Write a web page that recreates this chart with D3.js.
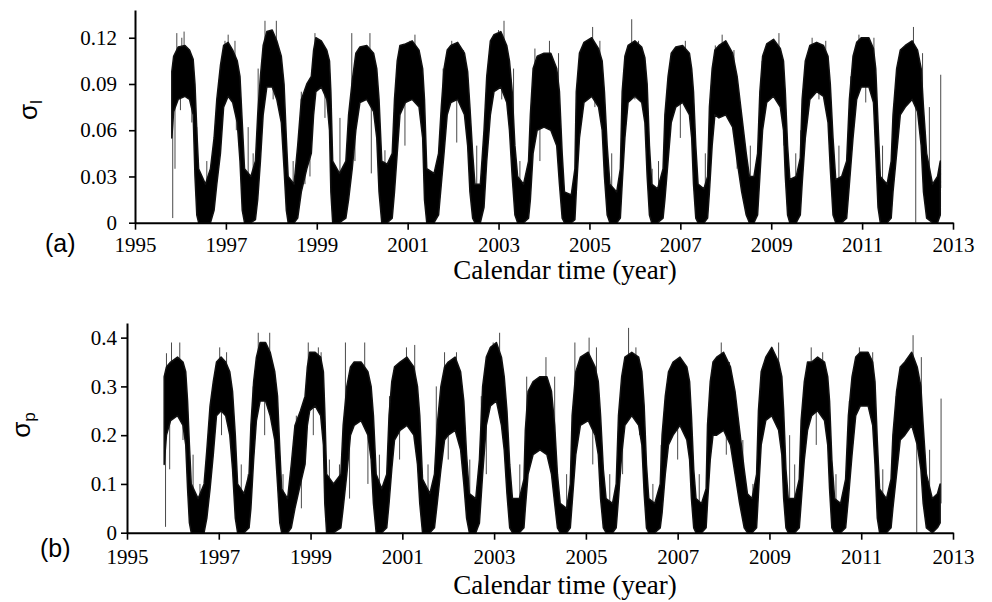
<!DOCTYPE html>
<html>
<head>
<meta charset="utf-8">
<script src="https://cdn.jsdelivr.net/npm/d3@7"></script>
<style>
  body { margin: 0; background: #fff; }
  svg { display: block; }
</style>
</head>
<body>
<svg id="chart" width="992" height="602"></svg>
<script>
// Daily series summarised as [year, low, high] of the dense band (σl)
const bandL = [
  [1995.81,0.055,0.098],[1995.85,0.072,0.108],[1995.95,0.080,0.114],[1996.10,0.082,0.115],[1996.20,0.080,0.112],
  [1996.28,0.070,0.106],[1996.32,0.030,0.090],[1996.36,0.005,0.060],[1996.40,0.000,0.035],[1996.55,0.000,0.025],
  [1996.66,0.000,0.035],[1996.74,0.008,0.055],[1996.80,0.025,0.080],[1996.88,0.045,0.102],[1996.95,0.075,0.115],
  [1997.05,0.082,0.117],[1997.15,0.078,0.112],[1997.25,0.065,0.105],[1997.31,0.040,0.095],[1997.36,0.008,0.065],
  [1997.41,0.000,0.035],[1997.55,0.000,0.030],[1997.65,0.002,0.040],[1997.70,0.015,0.070],[1997.76,0.040,0.095],
  [1997.82,0.070,0.115],[1997.90,0.088,0.124],[1998.02,0.088,0.125],[1998.12,0.080,0.118],[1998.22,0.065,0.108],
  [1998.28,0.035,0.090],[1998.33,0.008,0.055],[1998.37,0.000,0.030],[1998.50,0.000,0.025],[1998.58,0.003,0.050],
  [1998.66,0.020,0.080],[1998.78,0.035,0.090],[1998.88,0.045,0.095],[1998.93,0.070,0.112],
  [1998.98,0.085,0.120],[1999.10,0.088,0.118],[1999.22,0.080,0.112],[1999.28,0.060,0.105],[1999.31,0.020,0.085],
  [1999.35,0.000,0.040],[1999.50,0.000,0.032],[1999.64,0.003,0.040],[1999.70,0.015,0.070],[1999.78,0.035,0.092],
  [1999.86,0.060,0.110],[1999.95,0.078,0.114],[2000.10,0.080,0.115],[2000.25,0.072,0.110],[2000.32,0.055,0.100],
  [2000.37,0.020,0.080],[2000.43,0.000,0.040],[2000.55,0.000,0.038],[2000.66,0.003,0.045],[2000.71,0.020,0.080],
  [2000.77,0.045,0.105],[2000.83,0.070,0.115],[2000.95,0.078,0.116],[2001.10,0.080,0.118],[2001.25,0.075,0.112],
  [2001.33,0.055,0.100],[2001.37,0.015,0.080],[2001.42,0.000,0.035],[2001.58,0.000,0.032],[2001.68,0.005,0.045],
  [2001.74,0.025,0.075],[2001.80,0.045,0.100],[2001.87,0.070,0.112],[2001.95,0.078,0.115],[2002.10,0.080,0.117],
  [2002.25,0.070,0.110],[2002.32,0.050,0.098],[2002.37,0.020,0.075],[2002.43,0.003,0.045],[2002.48,0.000,0.025],
  [2002.60,0.000,0.025],[2002.68,0.010,0.060],[2002.74,0.040,0.095],[2002.82,0.070,0.118],[2002.90,0.085,0.122],
  [2003.05,0.088,0.124],[2003.18,0.078,0.115],[2003.24,0.060,0.105],[2003.30,0.030,0.085],[2003.36,0.005,0.050],
  [2003.42,0.000,0.030],[2003.55,0.000,0.025],[2003.66,0.003,0.040],[2003.70,0.015,0.070],[2003.76,0.045,0.100],
  [2003.85,0.060,0.108],[2004.00,0.062,0.110],[2004.15,0.060,0.110],[2004.28,0.050,0.100],[2004.34,0.025,0.085],
  [2004.40,0.003,0.045],[2004.45,0.000,0.020],[2004.60,0.000,0.018],[2004.68,0.002,0.035],[2004.71,0.020,0.085],
  [2004.78,0.055,0.110],[2004.88,0.078,0.117],[2005.05,0.082,0.120],[2005.20,0.075,0.113],[2005.28,0.060,0.105],
  [2005.33,0.030,0.085],[2005.39,0.005,0.050],[2005.45,0.000,0.025],[2005.60,0.000,0.020],[2005.68,0.003,0.035],
  [2005.72,0.025,0.085],[2005.78,0.055,0.108],[2005.85,0.078,0.115],[2006.00,0.082,0.118],[2006.15,0.078,0.114],
  [2006.22,0.065,0.107],[2006.27,0.030,0.090],[2006.32,0.005,0.050],[2006.37,0.000,0.025],[2006.50,0.000,0.022],
  [2006.62,0.003,0.035],[2006.66,0.015,0.070],[2006.73,0.040,0.095],[2006.80,0.065,0.110],[2006.90,0.075,0.114],
  [2007.05,0.078,0.115],[2007.20,0.070,0.110],[2007.25,0.055,0.100],[2007.29,0.025,0.085],[2007.34,0.003,0.050],
  [2007.39,0.000,0.025],[2007.52,0.000,0.022],[2007.60,0.003,0.030],[2007.64,0.020,0.075],[2007.70,0.050,0.100],
  [2007.76,0.070,0.112],[2007.85,0.068,0.115],[2008.00,0.070,0.118],[2008.15,0.062,0.110],[2008.25,0.040,0.095],
  [2008.35,0.020,0.070],[2008.45,0.005,0.045],[2008.52,0.000,0.030],[2008.62,0.000,0.030],[2008.70,0.005,0.045],
  [2008.75,0.030,0.085],[2008.81,0.060,0.108],[2008.90,0.078,0.116],[2009.05,0.082,0.119],[2009.20,0.075,0.113],
  [2009.27,0.060,0.105],[2009.31,0.030,0.085],[2009.36,0.005,0.050],[2009.41,0.000,0.028],[2009.55,0.000,0.030],
  [2009.64,0.005,0.042],[2009.68,0.025,0.080],[2009.75,0.055,0.105],[2009.85,0.080,0.115],[2010.00,0.085,0.117],
  [2010.15,0.082,0.115],[2010.25,0.065,0.108],[2010.30,0.035,0.090],[2010.36,0.005,0.055],[2010.42,0.000,0.028],
  [2010.55,0.000,0.030],[2010.66,0.003,0.040],[2010.72,0.025,0.080],[2010.80,0.055,0.108],[2010.88,0.080,0.117],
  [2010.98,0.088,0.120],[2011.15,0.088,0.120],[2011.25,0.078,0.113],[2011.30,0.045,0.100],[2011.35,0.010,0.065],
  [2011.40,0.000,0.030],[2011.55,0.000,0.025],[2011.64,0.003,0.040],[2011.68,0.020,0.070],[2011.76,0.045,0.100],
  [2011.84,0.070,0.112],[2011.95,0.075,0.115],[2012.10,0.080,0.118],[2012.22,0.072,0.112],[2012.30,0.050,0.100],
  [2012.35,0.020,0.075],[2012.42,0.003,0.045],[2012.55,0.000,0.025],[2012.66,0.000,0.030],[2012.72,0.005,0.040]
];

// Isolated excursions beyond the band: [year, value]
const spikesL = [
  [1995.83,0.003],[1995.88,0.035],[1995.92,0.123],[1996.03,0.120],[1996.08,0.124],[1996.00,0.073],[1996.25,0.065],
  [1996.36,0.062],[1996.58,0.040],[1996.83,0.050],[1996.98,0.118],[1997.05,0.122],[1997.20,0.118],[1997.23,0.060],
  [1997.49,0.062],[1997.60,0.045],[1997.71,0.100],[1997.86,0.131],[1998.11,0.131],[1998.04,0.080],[1998.48,0.040],
  [1998.66,0.085],[1998.74,0.025],[1998.85,0.030],[1998.96,0.123],[1999.18,0.068],[1999.51,0.068],[1999.77,0.123],
  [1999.84,0.040],[2000.17,0.123],[2000.20,0.032],[2000.50,0.047],[2000.76,0.085],[2001.05,0.118],[2001.16,0.122],
  [2000.94,0.050],[2001.53,0.030],[2001.78,0.100],[2001.97,0.118],[2002.08,0.052],[2002.23,0.112],[2002.52,0.050],
  [2002.74,0.090],[2003.00,0.125],[2003.12,0.131],[2003.07,0.080],[2003.33,0.100],[2003.47,0.040],[2003.80,0.113],
  [2003.91,0.040],[2004.12,0.118],[2004.32,0.110],[2004.76,0.100],[2005.07,0.127],[2005.23,0.118],[2005.12,0.075],
  [2005.49,0.045],[2005.78,0.092],[2005.93,0.132],[2006.08,0.118],[2006.00,0.080],[2006.38,0.035],[2006.52,0.040],
  [2006.85,0.110],[2007.11,0.118],[2007.00,0.055],[2007.55,0.045],[2007.77,0.115],[2007.92,0.122],[2008.18,0.112],
  [2008.25,0.035],[2008.54,0.050],[2008.80,0.105],[2009.17,0.123],[2009.28,0.050],[2009.54,0.045],[2009.65,0.060],
  [2009.90,0.120],[2010.05,0.080],[2010.20,0.118],[2010.49,0.050],[2010.75,0.095],[2010.93,0.122],[2011.26,0.120],
  [2011.08,0.078],[2011.45,0.050],[2011.78,0.090],[2012.13,0.127],[2012.18,0.000],[2012.33,0.110],[2012.48,0.075],
  [2012.73,0.096]
];

// Same summary for σp
const bandP = [
  [1995.81,0.14,0.32],[1995.86,0.20,0.34],[1995.95,0.23,0.35],[1996.10,0.24,0.36],[1996.22,0.22,0.35],
  [1996.28,0.18,0.33],[1996.32,0.09,0.27],[1996.36,0.02,0.18],[1996.40,0.00,0.10],[1996.55,0.00,0.07],
  [1996.68,0.00,0.10],[1996.74,0.03,0.17],[1996.81,0.09,0.26],[1996.88,0.16,0.31],[1996.95,0.24,0.35],
  [1997.05,0.25,0.36],[1997.15,0.24,0.35],[1997.24,0.20,0.33],[1997.30,0.13,0.29],[1997.36,0.03,0.20],
  [1997.41,0.00,0.10],[1997.55,0.00,0.08],[1997.66,0.01,0.12],[1997.70,0.05,0.22],[1997.76,0.15,0.31],
  [1997.82,0.23,0.36],[1997.90,0.27,0.39],[1998.02,0.27,0.39],[1998.12,0.24,0.37],[1998.22,0.19,0.33],
  [1998.28,0.10,0.28],[1998.33,0.02,0.17],[1998.37,0.00,0.09],[1998.50,0.00,0.07],[1998.58,0.01,0.14],
  [1998.66,0.05,0.22],[1998.78,0.10,0.25],[1998.88,0.14,0.28],[1998.93,0.22,0.34],
  [1998.98,0.25,0.37],[1999.10,0.26,0.37],[1999.22,0.24,0.36],[1999.28,0.18,0.33],[1999.31,0.06,0.25],
  [1999.35,0.00,0.12],[1999.50,0.00,0.10],[1999.66,0.01,0.12],[1999.71,0.05,0.22],[1999.79,0.12,0.30],
  [1999.87,0.20,0.34],[1999.95,0.22,0.35],[2000.10,0.23,0.35],[2000.25,0.20,0.33],[2000.32,0.15,0.30],
  [2000.37,0.06,0.24],[2000.43,0.00,0.12],[2000.55,0.00,0.09],[2000.66,0.01,0.12],[2000.71,0.06,0.24],
  [2000.77,0.13,0.31],[2000.83,0.19,0.34],[2000.95,0.21,0.35],[2001.10,0.22,0.36],[2001.25,0.20,0.34],
  [2001.33,0.14,0.30],[2001.38,0.06,0.24],[2001.44,0.00,0.11],[2001.60,0.00,0.08],[2001.70,0.01,0.12],
  [2001.76,0.06,0.22],[2001.84,0.13,0.30],[2001.92,0.19,0.34],[2002.00,0.20,0.35],[2002.15,0.21,0.36],
  [2002.27,0.17,0.33],[2002.34,0.10,0.27],[2002.40,0.03,0.16],[2002.46,0.00,0.08],[2002.60,0.00,0.07],
  [2002.68,0.02,0.15],[2002.75,0.12,0.30],[2002.83,0.22,0.36],[2002.92,0.26,0.38],[2003.05,0.27,0.39],
  [2003.16,0.22,0.36],[2003.22,0.17,0.32],[2003.28,0.08,0.25],[2003.34,0.01,0.14],[2003.40,0.00,0.07],
  [2003.55,0.00,0.07],[2003.65,0.01,0.11],[2003.68,0.05,0.21],[2003.74,0.12,0.29],[2003.85,0.16,0.31],
  [2004.00,0.17,0.32],[2004.15,0.16,0.32],[2004.25,0.12,0.29],[2004.32,0.06,0.22],[2004.38,0.01,0.12],
  [2004.44,0.00,0.06],[2004.58,0.00,0.05],[2004.66,0.01,0.10],[2004.70,0.06,0.24],[2004.78,0.16,0.33],
  [2004.88,0.22,0.36],[2005.05,0.23,0.37],[2005.20,0.20,0.34],[2005.27,0.16,0.31],[2005.32,0.07,0.24],
  [2005.38,0.01,0.13],[2005.44,0.00,0.07],[2005.58,0.00,0.06],[2005.66,0.01,0.10],[2005.71,0.07,0.24],
  [2005.78,0.16,0.32],[2005.85,0.22,0.36],[2006.00,0.24,0.37],[2006.15,0.22,0.36],[2006.22,0.18,0.33],
  [2006.27,0.08,0.26],[2006.32,0.01,0.14],[2006.37,0.00,0.07],[2006.50,0.00,0.06],[2006.62,0.01,0.10],
  [2006.66,0.04,0.20],[2006.73,0.12,0.28],[2006.80,0.18,0.33],[2006.90,0.20,0.35],[2007.05,0.22,0.36],
  [2007.20,0.19,0.34],[2007.26,0.15,0.31],[2007.30,0.07,0.24],[2007.35,0.01,0.13],[2007.40,0.00,0.07],
  [2007.52,0.00,0.06],[2007.62,0.01,0.09],[2007.65,0.06,0.22],[2007.71,0.15,0.31],[2007.77,0.20,0.35],
  [2007.85,0.20,0.36],[2008.00,0.21,0.37],[2008.15,0.18,0.34],[2008.25,0.12,0.29],[2008.35,0.06,0.21],
  [2008.45,0.01,0.13],[2008.52,0.00,0.08],[2008.62,0.00,0.07],[2008.72,0.01,0.12],[2008.76,0.08,0.25],
  [2008.82,0.18,0.33],[2008.92,0.23,0.36],[2009.05,0.24,0.38],[2009.20,0.21,0.35],[2009.27,0.16,0.32],
  [2009.31,0.07,0.25],[2009.36,0.01,0.13],[2009.41,0.00,0.07],[2009.55,0.00,0.07],[2009.65,0.01,0.11],
  [2009.69,0.06,0.23],[2009.76,0.15,0.31],[2009.83,0.21,0.35],[2009.92,0.24,0.35],[2010.05,0.25,0.36],
  [2010.20,0.23,0.35],[2010.27,0.18,0.32],[2010.31,0.09,0.27],[2010.36,0.01,0.15],[2010.42,0.00,0.07],
  [2010.55,0.00,0.06],[2010.66,0.01,0.11],[2010.72,0.07,0.24],[2010.80,0.16,0.32],[2010.88,0.24,0.36],
  [2010.98,0.26,0.37],[2011.15,0.26,0.37],[2011.25,0.22,0.35],[2011.30,0.14,0.31],[2011.35,0.03,0.19],
  [2011.40,0.00,0.09],[2011.55,0.00,0.07],[2011.65,0.01,0.11],[2011.69,0.05,0.20],[2011.77,0.12,0.29],
  [2011.85,0.19,0.34],[2011.95,0.20,0.35],[2012.10,0.22,0.37],[2012.22,0.18,0.34],[2012.30,0.13,0.30],
  [2012.35,0.06,0.22],[2012.42,0.01,0.12],[2012.55,0.00,0.07],[2012.66,0.01,0.08],[2012.72,0.02,0.10]
];

const spikesP = [
  [1995.84,0.012],[1995.86,0.368],[1995.97,0.390],[1996.15,0.390],[1995.93,0.130],[1996.22,0.190],[1996.44,0.160],
  [1996.59,0.100],[1996.77,0.180],[1996.88,0.300],[1997.02,0.380],[1997.17,0.370],[1997.06,0.200],[1997.49,0.140],
  [1997.64,0.120],[1997.75,0.300],[1997.86,0.410],[1998.11,0.410],[1998.00,0.200],[1998.40,0.120],[1998.55,0.090],
  [1998.69,0.240],[1998.80,0.050],[1998.95,0.390],[1999.17,0.380],[1999.06,0.200],[1999.23,0.370],[1999.41,0.150],
  [1999.52,0.000],[1999.63,0.140],[1999.76,0.390],[1999.85,0.070],[2000.18,0.390],[2000.25,0.100],[2000.50,0.160],
  [2000.72,0.280],[2001.09,0.380],[2001.27,0.385],[2000.94,0.150],[2001.56,0.140],[2001.74,0.300],[2001.92,0.370],
  [2002.18,0.370],[2002.00,0.150],[2002.47,0.150],[2002.72,0.280],[2002.98,0.390],[2003.12,0.410],[2002.83,0.120],
  [2003.56,0.140],[2003.71,0.320],[2004.13,0.360],[2004.32,0.320],[2004.00,0.170],[2004.58,0.120],[2004.76,0.390],
  [2005.07,0.400],[2005.23,0.380],[2005.15,0.140],[2005.52,0.120],[2005.85,0.350],[2005.93,0.420],[2006.09,0.380],
  [2005.80,0.120],[2006.17,0.200],[2006.46,0.100],[2006.64,0.180],[2006.82,0.320],[2006.93,0.350],[2007.11,0.350],
  [2007.00,0.150],[2007.47,0.120],[2007.73,0.280],[2007.95,0.390],[2008.13,0.350],[2008.06,0.160],[2008.42,0.190],
  [2008.64,0.100],[2008.86,0.310],[2009.20,0.390],[2009.29,0.150],[2009.44,0.200],[2009.55,0.140],[2009.91,0.380],
  [2010.16,0.370],[2010.02,0.180],[2010.45,0.120],[2010.74,0.270],[2010.96,0.380],[2011.25,0.370],[2011.11,0.260],
  [2011.47,0.130],[2011.76,0.280],[2012.13,0.405],[2012.21,0.000],[2012.31,0.360],[2012.49,0.170],[2012.74,0.275]
];

const yearTicks = [1995, 1997, 1999, 2001, 2003, 2005, 2007, 2009, 2011, 2013];
const ticksL = [0, 0.03, 0.06, 0.09, 0.12];
const ticksP = [0, 0.1, 0.2, 0.3, 0.4];
const xTitle = "Calendar time (year)";

const serif = "'Liberation Serif', 'Times New Roman', serif";
const sans = "'Liberation Sans', Arial, sans-serif";
const svg = d3.select("#chart");

function drawPanel(opt) {
  const x = d3.scaleLinear().domain([1995, 2013]).range([opt.left, 953]);
  const y = d3.scaleLinear().domain([0, opt.yMax]).range([opt.bottom, opt.top]);
  const g = svg.append("g");

  // mid-line of the band, used as the foot of each excursion
  const bis = d3.bisector(d => d[0]).left;
  const mid = t => {
    const b = opt.band;
    const i = bis(b, t);
    if (i <= 0) return (b[0][1] + b[0][2]) / 2;
    if (i >= b.length) { const e = b[b.length - 1]; return (e[1] + e[2]) / 2; }
    const a = b[i - 1], c = b[i];
    const k = (t - a[0]) / (c[0] - a[0]);
    return ((a[1] + a[2]) / 2) * (1 - k) + ((c[1] + c[2]) / 2) * k;
  };

  g.append("g").selectAll("line").data(opt.spikes).join("line")
    .attr("x1", d => x(d[0])).attr("x2", d => x(d[0]))
    .attr("y1", d => y(mid(d[0]))).attr("y2", d => y(d[1]))
    .attr("stroke", "#4a4a4a").attr("stroke-width", 1);

  const area = d3.area()
    .x(d => x(d[0]))
    .y0(d => y(d[1]))
    .y1(d => y(d[2]));
  g.append("path").datum(opt.band).attr("d", area)
    .attr("fill", "#000").attr("stroke", "#111")
    .attr("stroke-width", 1.5).attr("stroke-linejoin", "round");

  // axes
  const xAxis = d3.axisBottom(x).tickValues(yearTicks).tickFormat(d3.format("d"))
    .tickSize(7).tickSizeOuter(0).tickPadding(opt.xpad);
  const gx = g.append("g").attr("transform", `translate(0,${opt.bottom})`).call(xAxis);
  const yAxis = d3.axisLeft(y).tickValues(opt.ticks)
    .tickFormat(d => d === 0 ? "0" : d3.format(opt.fmt)(d))
    .tickSize(6).tickSizeOuter(0).tickPadding(opt.pad);
  const gy = g.append("g").attr("transform", `translate(${opt.left},0)`).call(yAxis);
  [gx, gy].forEach(a => {
    a.select(".domain").attr("stroke", "#000").attr("stroke-width", 2);
    a.selectAll(".tick line").attr("stroke", "#000").attr("stroke-width", 1.6);
    a.selectAll(".tick text").attr("fill", "#000")
      .style("font-family", serif).style("font-size", "21px");
  });

  g.append("text").attr("x", 565).attr("y", opt.titleY)
    .attr("text-anchor", "middle").style("font-family", serif).style("font-size", "27px")
    .text(xTitle);

  g.append("text").attr("x", opt.tagX).attr("y", opt.tagY)
    .style("font-family", sans).style("font-size", "25px").text(opt.tag);

  const lab = g.append("text")
    .attr("transform", `translate(${opt.labX},${opt.labY}) rotate(-90)`)
    .attr("text-anchor", "middle").style("font-family", sans).style("font-size", "26px");
  lab.append("tspan").text("σ");
  lab.append("tspan").attr("dy", 5).style("font-size", "17px").text(opt.sub);
}

drawPanel({
  band: bandL, spikes: spikesL, ticks: ticksL, fmt: ".2f", yMax: 0.138,
  left: 135, top: 10, bottom: 222.7, pad: 12, xpad: 7,
  titleY: 279, tag: "(a)", tagX: 45, tagY: 252,
  labX: 37, labY: 110, sub: "l"
});

drawPanel({
  band: bandP, spikes: spikesP, ticks: ticksP, fmt: ".1f", yMax: 0.43,
  left: 127, top: 323, bottom: 532.7, pad: 4, xpad: 9,
  titleY: 594, tag: "(b)", tagX: 40, tagY: 557,
  labX: 30, labY: 425, sub: "p"
});
</script>
</body>
</html>
